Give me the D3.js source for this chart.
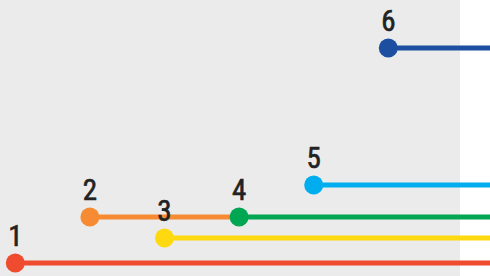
<!DOCTYPE html>
<html>
<head>
<meta charset="utf-8">
<script src="https://cdn.jsdelivr.net/npm/d3@7"></script>
<style>
  body { margin: 0; background: #fff; }
</style>
</head>
<body>
<div id="chart"></div>
<script>
const labels = ["1", "2", "3", "4", "5", "6"];
const values = [13, 59, 38, 59, 91, 228];
const colors = ["#ef4b2f", "#f68b33", "#ffd90f", "#00a651", "#00aeef", "#1c4fa0"];
// where each line stops: index of another stop, or null = runs off the right edge
const endsAt = [null, 3, null, null, null, null];

const width = 490;
const height = 276;

const svg = d3.select("#chart")
  .append("svg")
  .attr("width", width)
  .attr("height", height);

svg.append("rect")
  .attr("x", 0)
  .attr("y", 0)
  .attr("width", 460)
  .attr("height", height)
  .attr("fill", "#ebebeb");

const x = d3.scalePoint().domain(labels).range([15.3, 388.3]);
const y = d3.scaleLinear().domain([0, height]).range([height, 0]);

const stops = labels.map((d, i) => ({
  label: d,
  value: values[i],
  color: colors[i],
  end: endsAt[i] === null ? width : x(labels[endsAt[i]])
}));

svg.selectAll(".line")
  .data(stops)
  .join("line")
  .attr("class", "line")
  .attr("x1", (d) => x(d.label))
  .attr("x2", (d) => d.end)
  .attr("y1", (d) => y(d.value))
  .attr("y2", (d) => y(d.value))
  .attr("stroke", (d) => d.color)
  .attr("stroke-width", 5);

svg.selectAll(".dot")
  .data(stops)
  .join("circle")
  .attr("class", "dot")
  .attr("cx", (d) => x(d.label))
  .attr("cy", (d) => y(d.value))
  .attr("r", 9.5)
  .attr("fill", (d) => d.color);

// medium-ish weight: regular narrow face with a thin stroke
svg.selectAll(".label")
  .data(stops)
  .join("text")
  .attr("class", "label")
  .attr("x", (d) => x(d.label))
  .attr("y", (d) => y(d.value) - 17)
  .attr("text-anchor", "middle")
  .attr("font-family", "'Liberation Sans Narrow', 'Roboto Condensed', 'Liberation Sans', Arial, sans-serif")
  .attr("font-size", 29)
  .attr("fill", "#222")
  .attr("stroke", "#222")
  .attr("stroke-width", 0.6)
  .text((d) => d.label);
</script>
</body>
</html>
